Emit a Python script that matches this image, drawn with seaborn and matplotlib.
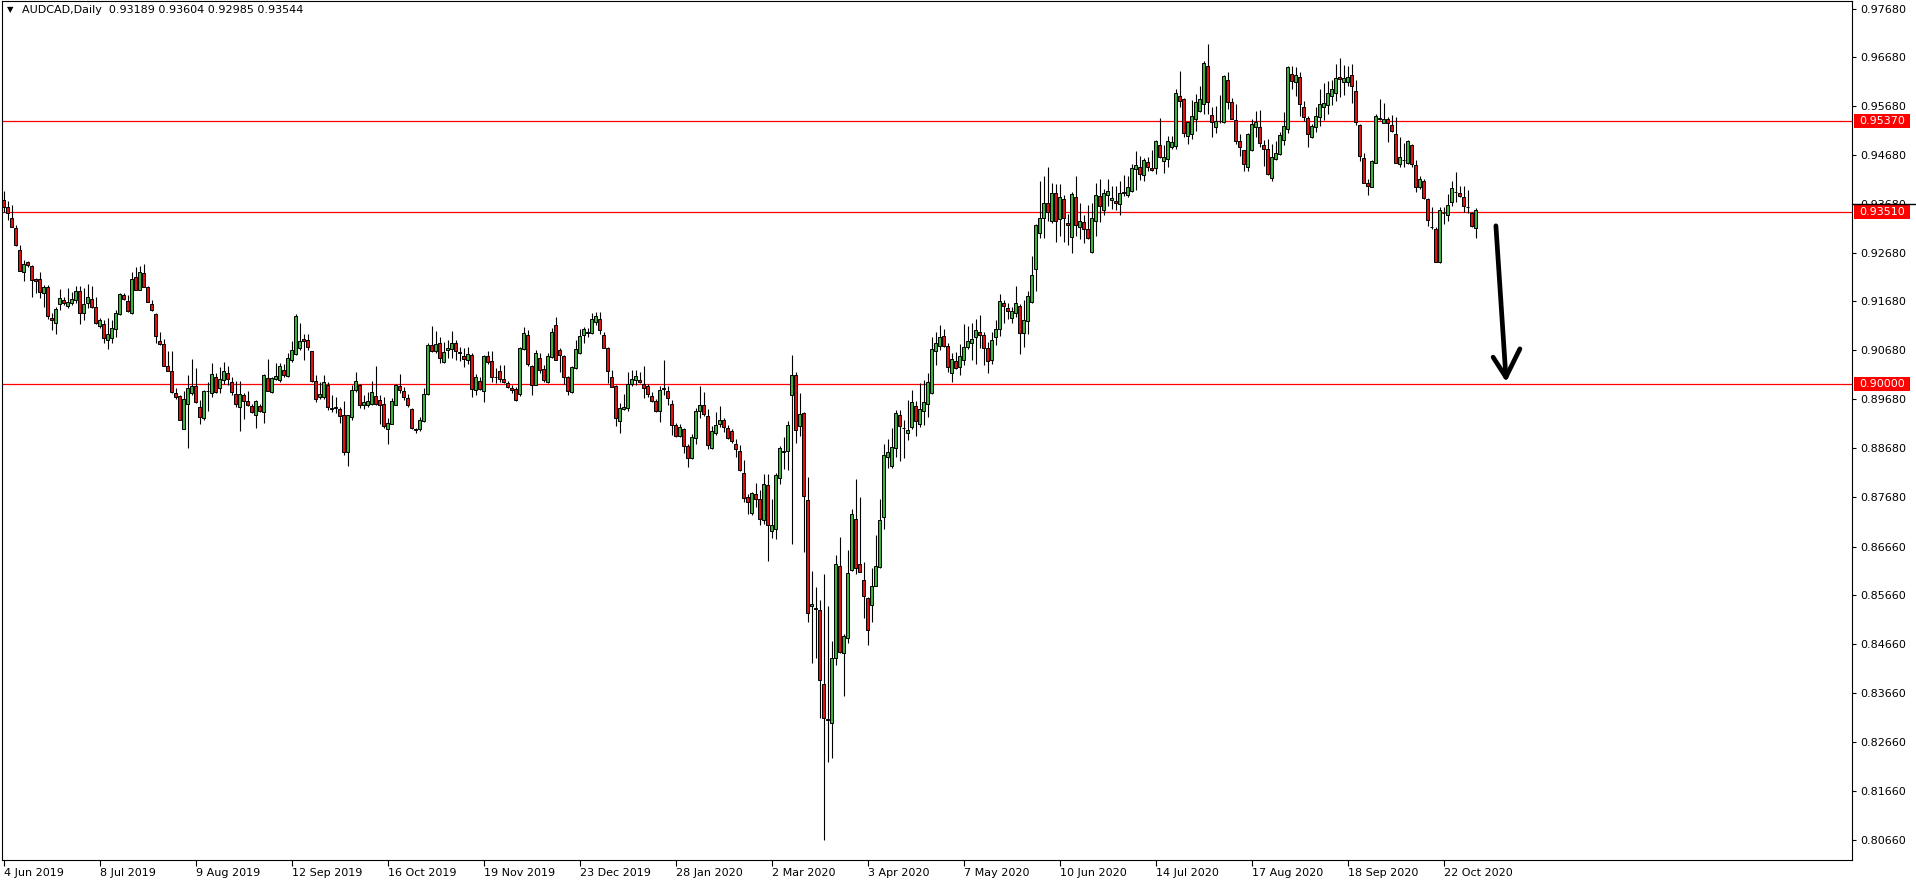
import matplotlib
matplotlib.use("Agg")
import matplotlib.pyplot as plt
import matplotlib.transforms as mtransforms
from matplotlib.patches import Rectangle
from matplotlib.lines import Line2D
import numpy as np
import pandas as pd
import seaborn as sns

# AUDCAD daily candles (one value per bar)
opens = [
    0.9376, 0.9361, 0.9338, 0.9318, 0.9273, 0.9229, 0.9248, 0.9241, 0.9214, 0.9214,
    0.9186, 0.9197, 0.9135, 0.9123, 0.9162, 0.9171, 0.9159, 0.9164, 0.9172, 0.9189,
    0.9144, 0.9164, 0.9173, 0.9156, 0.9118, 0.9121, 0.9089, 0.9094, 0.9111, 0.9142,
    0.9181, 0.9168, 0.9144, 0.9218, 0.9192, 0.9226, 0.9198, 0.9163, 0.9142, 0.9087,
    0.9080, 0.9036, 0.9025, 0.8980, 0.8974, 0.8907, 0.8959, 0.8980, 0.8995, 0.8951,
    0.8930, 0.8985, 0.8980, 0.9014, 0.8990, 0.9007, 0.9021, 0.9004, 0.8978, 0.8952,
    0.8976, 0.8965, 0.8954, 0.8935, 0.8954, 0.8941, 0.9012, 0.8983, 0.9010, 0.9008,
    0.9027, 0.9016, 0.9048, 0.9060, 0.9072, 0.9091, 0.9089, 0.9066, 0.9005, 0.8973,
    0.8973, 0.8998, 0.8949, 0.8952, 0.8947, 0.8935, 0.8860, 0.8931, 0.8986, 0.8997,
    0.8955, 0.8955, 0.8959, 0.8974, 0.8966, 0.8958, 0.8906, 0.8918, 0.8957, 0.8995,
    0.8985, 0.8970, 0.8948, 0.8907, 0.8906, 0.8924, 0.8978, 0.9079, 0.9067, 0.9082,
    0.9045, 0.9069, 0.9070, 0.9082, 0.9065, 0.9056, 0.9048, 0.9058, 0.8987, 0.9005,
    0.8985, 0.9056, 0.9046, 0.9013, 0.9025, 0.9010, 0.9002, 0.8991, 0.8988, 0.8978,
    0.9070, 0.9099, 0.9036, 0.8998, 0.9052, 0.9029, 0.9004, 0.9055, 0.9119, 0.9068,
    0.9056, 0.9013, 0.8983, 0.9031, 0.9062, 0.9099, 0.9104, 0.9103, 0.9125, 0.9133,
    0.9099, 0.9072, 0.9013, 0.8995, 0.8924, 0.8948, 0.8949, 0.9000, 0.9008, 0.9008,
    0.9000, 0.8995, 0.8974, 0.8964, 0.8944, 0.8989, 0.8985, 0.8959, 0.8916, 0.8893,
    0.8906, 0.8872, 0.8847, 0.8888, 0.8944, 0.8957, 0.8933, 0.8867, 0.8899, 0.8917,
    0.8925, 0.8908, 0.8903, 0.8877, 0.8862, 0.8816, 0.8767, 0.8734, 0.8774, 0.8763,
    0.8720, 0.8792, 0.8698, 0.8702, 0.8806, 0.8859, 0.8862, 0.8976, 0.9017, 0.8914,
    0.8940, 0.8761, 0.8545, 0.8541, 0.8536, 0.8384, 0.8312, 0.8304, 0.8437, 0.8626,
    0.8449, 0.8478, 0.8618, 0.8722, 0.8630, 0.8597, 0.8561, 0.8547, 0.8585, 0.8625,
    0.8726, 0.8850, 0.8831, 0.8867, 0.8935, 0.8908, 0.8898, 0.8910, 0.8954, 0.8918,
    0.8944, 0.8959, 0.8981, 0.9067, 0.9077, 0.9097, 0.9076, 0.9021, 0.9046, 0.9034,
    0.9049, 0.9075, 0.9082, 0.9096, 0.9105, 0.9099, 0.9072, 0.9048, 0.9095, 0.9111,
    0.9164, 0.9154, 0.9135, 0.9145, 0.9159, 0.9103, 0.9129, 0.9167, 0.9234, 0.9309,
    0.9340, 0.9369, 0.9333, 0.9391, 0.9336, 0.9377, 0.9328, 0.9301, 0.9381, 0.9321,
    0.9330, 0.9316, 0.9269, 0.9333, 0.9384, 0.9355, 0.9387, 0.9375, 0.9374, 0.9367,
    0.9392, 0.9387, 0.9394, 0.9439, 0.9443, 0.9428, 0.9453, 0.9441, 0.9442, 0.9488,
    0.9456, 0.9459, 0.9484, 0.9487, 0.9589, 0.9583, 0.9507, 0.9512, 0.9542, 0.9558,
    0.9572, 0.9650, 0.9550, 0.9525, 0.9538, 0.9535, 0.9622, 0.9577, 0.9540, 0.9497,
    0.9478, 0.9444, 0.9479, 0.9526, 0.9526, 0.9488, 0.9480, 0.9420, 0.9459, 0.9471,
    0.9499, 0.9521, 0.9633, 0.9617, 0.9627, 0.9566, 0.9543, 0.9505, 0.9526, 0.9545,
    0.9567, 0.9570, 0.9589, 0.9596, 0.9627, 0.9618, 0.9618, 0.9632, 0.9600, 0.9529,
    0.9461, 0.9410, 0.9403, 0.9452, 0.9543, 0.9533, 0.9542, 0.9529, 0.9511, 0.9449,
    0.9457, 0.9452, 0.9488, 0.9447, 0.9403, 0.9415, 0.9378, 0.9321, 0.9316, 0.9249,
    0.9350, 0.9345, 0.9372, 0.9393, 0.9391, 0.9381, 0.9362, 0.9350, 0.93189,
]
highs = [
    0.9395, 0.9374, 0.9366, 0.9325, 0.9284, 0.9253, 0.9250, 0.9243, 0.9217, 0.9228,
    0.9202, 0.9202, 0.9144, 0.9157, 0.9194, 0.9178, 0.9195, 0.9188, 0.9200, 0.9200,
    0.9195, 0.9204, 0.9200, 0.9178, 0.9135, 0.9130, 0.9135, 0.9130, 0.9150, 0.9185,
    0.9185, 0.9181, 0.9228, 0.9239, 0.9241, 0.9245, 0.9200, 0.9172, 0.9144, 0.9105,
    0.9092, 0.9066, 0.9066, 0.8990, 0.8976, 0.8985, 0.9017, 0.9050, 0.9031, 0.8966,
    0.8987, 0.9004, 0.9043, 0.9021, 0.9034, 0.9045, 0.9036, 0.9014, 0.9005, 0.9005,
    0.8980, 0.8985, 0.8959, 0.8966, 0.8959, 0.9019, 0.9050, 0.9014, 0.9043, 0.9043,
    0.9041, 0.9062, 0.9087, 0.9142, 0.9123, 0.9101, 0.9101, 0.9066, 0.9017, 0.9004,
    0.9017, 0.9004, 0.8976, 0.8973, 0.8952, 0.8964, 0.8935, 0.8997, 0.9024, 0.9000,
    0.8976, 0.8983, 0.9006, 0.9036, 0.8976, 0.8973, 0.8929, 0.8970, 0.9000, 0.9019,
    0.8992, 0.8978, 0.8949, 0.8908, 0.8932, 0.8990, 0.9082, 0.9118, 0.9108, 0.9096,
    0.9086, 0.9089, 0.9108, 0.9089, 0.9075, 0.9073, 0.9074, 0.9063, 0.9019, 0.9014,
    0.9058, 0.9067, 0.9067, 0.9032, 0.9038, 0.9038, 0.9006, 0.8997, 0.8992, 0.9075,
    0.9115, 0.9110, 0.9038, 0.9069, 0.9062, 0.9038, 0.9062, 0.9113, 0.9136, 0.9072,
    0.9058, 0.9015, 0.9036, 0.9089, 0.9112, 0.9116, 0.9113, 0.9144, 0.9147, 0.9147,
    0.9106, 0.9075, 0.9028, 0.8997, 0.8961, 0.8978, 0.9024, 0.9028, 0.9028, 0.9024,
    0.9036, 0.9000, 0.8983, 0.8968, 0.8994, 0.9048, 0.8994, 0.8966, 0.8920, 0.8918,
    0.8908, 0.8877, 0.8897, 0.8949, 0.8994, 0.8983, 0.8947, 0.8913, 0.8942, 0.8953,
    0.8929, 0.8915, 0.8906, 0.8886, 0.8875, 0.8843, 0.8774, 0.8778, 0.8797, 0.8782,
    0.8814, 0.8814, 0.8763, 0.8817, 0.8872, 0.8891, 0.8924, 0.9058, 0.9024, 0.8980,
    0.8942, 0.8809, 0.8616, 0.8584, 0.8556, 0.8609, 0.8545, 0.8472, 0.8649, 0.8686,
    0.8487, 0.8659, 0.8743, 0.8804, 0.8768, 0.8634, 0.8563, 0.8623, 0.8690, 0.8763,
    0.8876, 0.8886, 0.8908, 0.8946, 0.8945, 0.8925, 0.8966, 0.8987, 0.8965, 0.9002,
    0.9007, 0.9022, 0.9095, 0.9106, 0.9120, 0.9111, 0.9084, 0.9062, 0.9065, 0.9081,
    0.9122, 0.9118, 0.9123, 0.9133, 0.9140, 0.9106, 0.9086, 0.9106, 0.9131, 0.9183,
    0.9172, 0.9164, 0.9156, 0.9200, 0.9163, 0.9172, 0.9189, 0.9261, 0.9327, 0.9415,
    0.9425, 0.9444, 0.9410, 0.9409, 0.9409, 0.9386, 0.9348, 0.9393, 0.9425, 0.9370,
    0.9346, 0.9366, 0.9369, 0.9411, 0.9418, 0.9398, 0.9418, 0.9404, 0.9404, 0.9415,
    0.9427, 0.9424, 0.9450, 0.9476, 0.9465, 0.9461, 0.9463, 0.9479, 0.9499, 0.9543,
    0.9488, 0.9507, 0.9507, 0.9603, 0.9640, 0.9584, 0.9536, 0.9581, 0.9593, 0.9609,
    0.9661, 0.9695, 0.9567, 0.9568, 0.9591, 0.9632, 0.9639, 0.9584, 0.9572, 0.9512,
    0.9479, 0.9514, 0.9541, 0.9559, 0.9560, 0.9498, 0.9501, 0.9490, 0.9497, 0.9516,
    0.9557, 0.9651, 0.9650, 0.9648, 0.9637, 0.9579, 0.9548, 0.9531, 0.9567, 0.9603,
    0.9616, 0.9620, 0.9622, 0.9654, 0.9666, 0.9652, 0.9650, 0.9654, 0.9622, 0.9531,
    0.9473, 0.9419, 0.9458, 0.9552, 0.9582, 0.9574, 0.9546, 0.9550, 0.9545, 0.9504,
    0.9493, 0.9499, 0.9490, 0.9458, 0.9424, 0.9419, 0.9379, 0.9362, 0.9321, 0.9362,
    0.9362, 0.9388, 0.9415, 0.9434, 0.9405, 0.9405, 0.9396, 0.9352, 0.93604,
]
lows = [
    0.9351, 0.9334, 0.9320, 0.9282, 0.9231, 0.9209, 0.9239, 0.9178, 0.9185, 0.9176,
    0.9157, 0.9133, 0.9109, 0.9101, 0.9150, 0.9161, 0.9154, 0.9161, 0.9164, 0.9122,
    0.9130, 0.9154, 0.9154, 0.9122, 0.9113, 0.9082, 0.9070, 0.9084, 0.9096, 0.9140,
    0.9171, 0.9146, 0.9142, 0.9191, 0.9191, 0.9198, 0.9166, 0.9149, 0.9084, 0.9079,
    0.9036, 0.9025, 0.8981, 0.8969, 0.8925, 0.8906, 0.8868, 0.8976, 0.8961, 0.8918,
    0.8925, 0.8944, 0.8973, 0.8980, 0.8980, 0.9000, 0.8998, 0.8976, 0.8952, 0.8903,
    0.8927, 0.8954, 0.8939, 0.8908, 0.8942, 0.8920, 0.8985, 0.8980, 0.9007, 0.9004,
    0.9014, 0.9014, 0.9045, 0.9058, 0.9068, 0.9048, 0.9068, 0.9004, 0.8963, 0.8969,
    0.8969, 0.8946, 0.8942, 0.8940, 0.8920, 0.8853, 0.8832, 0.8925, 0.8983, 0.8950,
    0.8948, 0.8952, 0.8956, 0.8955, 0.8918, 0.8908, 0.8876, 0.8917, 0.8956, 0.8980,
    0.8966, 0.8952, 0.8907, 0.8899, 0.8903, 0.8922, 0.8976, 0.9065, 0.9062, 0.9043,
    0.9043, 0.9052, 0.9052, 0.9049, 0.9046, 0.9034, 0.9041, 0.8973, 0.8976, 0.8987,
    0.8963, 0.9041, 0.9004, 0.9002, 0.9004, 0.9002, 0.8990, 0.8980, 0.8965, 0.8975,
    0.9069, 0.9036, 0.8976, 0.8996, 0.9021, 0.9004, 0.9002, 0.9052, 0.9048, 0.9024,
    0.9000, 0.8976, 0.8981, 0.9030, 0.9060, 0.9084, 0.9095, 0.9101, 0.9120, 0.9101,
    0.9072, 0.9002, 0.8992, 0.8913, 0.8899, 0.8946, 0.8944, 0.8995, 0.8997, 0.9002,
    0.8970, 0.8973, 0.8963, 0.8942, 0.8922, 0.8976, 0.8955, 0.8894, 0.8891, 0.8891,
    0.8857, 0.8830, 0.8845, 0.8877, 0.8929, 0.8933, 0.8865, 0.8865, 0.8894, 0.8910,
    0.8901, 0.8886, 0.8879, 0.8849, 0.8821, 0.8758, 0.8733, 0.8731, 0.8748, 0.8711,
    0.8713, 0.8637, 0.8684, 0.8681, 0.8794, 0.8824, 0.8823, 0.8672, 0.8879, 0.8893,
    0.8655, 0.8512, 0.8427, 0.8437, 0.8316, 0.8065, 0.8225, 0.8234, 0.8423, 0.8449,
    0.8360, 0.8469, 0.8617, 0.8609, 0.8613, 0.8520, 0.8465, 0.8512, 0.8585, 0.8623,
    0.8702, 0.8828, 0.8826, 0.8849, 0.8842, 0.8848, 0.8884, 0.8906, 0.8893, 0.8910,
    0.8915, 0.8932, 0.8978, 0.9038, 0.9069, 0.9075, 0.9024, 0.9004, 0.9029, 0.9017,
    0.9038, 0.9070, 0.9048, 0.9041, 0.9072, 0.9038, 0.9021, 0.9041, 0.9079, 0.9097,
    0.9123, 0.9133, 0.9123, 0.9137, 0.9060, 0.9075, 0.9101, 0.9165, 0.9190, 0.9299,
    0.9299, 0.9333, 0.9328, 0.9290, 0.9302, 0.9290, 0.9284, 0.9268, 0.9302, 0.9295,
    0.9288, 0.9295, 0.9268, 0.9302, 0.9331, 0.9345, 0.9364, 0.9357, 0.9355, 0.9345,
    0.9385, 0.9383, 0.9393, 0.9396, 0.9417, 0.9415, 0.9436, 0.9436, 0.9430, 0.9461,
    0.9432, 0.9444, 0.9481, 0.9481, 0.9567, 0.9504, 0.9490, 0.9501, 0.9518, 0.9557,
    0.9552, 0.9552, 0.9504, 0.9514, 0.9533, 0.9533, 0.9563, 0.9541, 0.9490, 0.9466,
    0.9436, 0.9436, 0.9476, 0.9505, 0.9485, 0.9445, 0.9428, 0.9415, 0.9458, 0.9468,
    0.9488, 0.9514, 0.9603, 0.9589, 0.9548, 0.9538, 0.9485, 0.9502, 0.9516, 0.9527,
    0.9540, 0.9551, 0.9570, 0.9579, 0.9587, 0.9591, 0.9609, 0.9574, 0.9529, 0.9456,
    0.9411, 0.9387, 0.9403, 0.9452, 0.9540, 0.9533, 0.9495, 0.9516, 0.9451, 0.9444,
    0.9444, 0.9449, 0.9444, 0.9393, 0.9398, 0.9377, 0.9323, 0.9316, 0.9248, 0.9246,
    0.9327, 0.9333, 0.9363, 0.9372, 0.9383, 0.9352, 0.9350, 0.9321, 0.92985,
]
closes = [
    0.9361, 0.9349, 0.9320, 0.9284, 0.9231, 0.9245, 0.9242, 0.9213, 0.9209, 0.9188,
    0.9197, 0.9139, 0.9131, 0.9152, 0.9176, 0.9164, 0.9166, 0.9174, 0.9189, 0.9144,
    0.9162, 0.9178, 0.9157, 0.9123, 0.9131, 0.9094, 0.9101, 0.9114, 0.9144, 0.9183,
    0.9174, 0.9148, 0.9214, 0.9192, 0.9228, 0.9198, 0.9166, 0.9150, 0.9097, 0.9080,
    0.9036, 0.9025, 0.8982, 0.8972, 0.8926, 0.8968, 0.8990, 0.8995, 0.8963, 0.8932,
    0.8985, 0.8984, 0.9019, 0.8982, 0.9009, 0.9025, 0.9010, 0.8983, 0.8959, 0.8978,
    0.8965, 0.8955, 0.8942, 0.8964, 0.8944, 0.9017, 0.8985, 0.9012, 0.9015, 0.9036,
    0.9017, 0.9053, 0.9068, 0.9138, 0.9087, 0.9088, 0.9074, 0.9005, 0.8969, 0.8978,
    0.9003, 0.8952, 0.8947, 0.8949, 0.8934, 0.8860, 0.8935, 0.8987, 0.9005, 0.8957,
    0.8962, 0.8964, 0.8983, 0.8958, 0.8957, 0.8912, 0.8919, 0.8964, 0.8997, 0.8986,
    0.8973, 0.8955, 0.8908, 0.8904, 0.8925, 0.8978, 0.9079, 0.9067, 0.9081, 0.9052,
    0.9065, 0.9072, 0.9084, 0.9067, 0.9062, 0.9051, 0.9060, 0.8988, 0.9013, 0.8988,
    0.9056, 0.9044, 0.9014, 0.9013, 0.9010, 0.9004, 0.8993, 0.8987, 0.8966, 0.9072,
    0.9103, 0.9039, 0.8998, 0.9062, 0.9028, 0.9007, 0.9056, 0.9105, 0.9049, 0.9058,
    0.9013, 0.8985, 0.9033, 0.9070, 0.9098, 0.9111, 0.9105, 0.9133, 0.9138, 0.9110,
    0.9073, 0.9026, 0.8993, 0.8929, 0.8949, 0.8951, 0.9000, 0.9010, 0.9015, 0.9003,
    0.8990, 0.8978, 0.8964, 0.8944, 0.8987, 0.8990, 0.8970, 0.8916, 0.8893, 0.8910,
    0.8873, 0.8847, 0.8890, 0.8944, 0.8957, 0.8938, 0.8875, 0.8903, 0.8916, 0.8925,
    0.8910, 0.8889, 0.8882, 0.8865, 0.8823, 0.8765, 0.8758, 0.8775, 0.8763, 0.8722,
    0.8795, 0.8710, 0.8710, 0.8812, 0.8867, 0.8862, 0.8915, 0.9017, 0.8905, 0.8938,
    0.8770, 0.8531, 0.8549, 0.8539, 0.8392, 0.8314, 0.8310, 0.8437, 0.8630, 0.8451,
    0.8483, 0.8611, 0.8733, 0.8623, 0.8614, 0.8565, 0.8496, 0.8585, 0.8627, 0.8720,
    0.8854, 0.8860, 0.8870, 0.8939, 0.8912, 0.8908, 0.8905, 0.8962, 0.8924, 0.8948,
    0.8962, 0.9004, 0.9071, 0.9084, 0.9095, 0.9077, 0.9034, 0.9050, 0.9032, 0.9056,
    0.9074, 0.9087, 0.9092, 0.9110, 0.9100, 0.9072, 0.9046, 0.9090, 0.9111, 0.9170,
    0.9159, 0.9149, 0.9148, 0.9164, 0.9104, 0.9131, 0.9180, 0.9223, 0.9324, 0.9340,
    0.9369, 0.9352, 0.9391, 0.9333, 0.9383, 0.9340, 0.9325, 0.9389, 0.9325, 0.9333,
    0.9316, 0.9299, 0.9340, 0.9387, 0.9364, 0.9391, 0.9394, 0.9379, 0.9369, 0.9391,
    0.9391, 0.9402, 0.9441, 0.9448, 0.9430, 0.9458, 0.9443, 0.9437, 0.9497, 0.9463,
    0.9464, 0.9497, 0.9494, 0.9594, 0.9579, 0.9514, 0.9535, 0.9548, 0.9577, 0.9582,
    0.9657, 0.9577, 0.9536, 0.9538, 0.9537, 0.9630, 0.9577, 0.9542, 0.9497, 0.9485,
    0.9449, 0.9512, 0.9531, 0.9536, 0.9492, 0.9481, 0.9430, 0.9463, 0.9473, 0.9509,
    0.9527, 0.9649, 0.9620, 0.9631, 0.9572, 0.9545, 0.9510, 0.9527, 0.9548, 0.9572,
    0.9574, 0.9596, 0.9603, 0.9625, 0.9624, 0.9625, 0.9627, 0.9609, 0.9535, 0.9465,
    0.9411, 0.9405, 0.9456, 0.9548, 0.9542, 0.9542, 0.9533, 0.9518, 0.9452, 0.9463,
    0.9458, 0.9497, 0.9449, 0.9403, 0.9419, 0.9379, 0.9335, 0.9320, 0.9249, 0.9355,
    0.9349, 0.9365, 0.9400, 0.9392, 0.9385, 0.9364, 0.9361, 0.9323, 0.93544,
]

# x-axis date labels (every 24 bars)
date_labels = ["4 Jun 2019", "8 Jul 2019", "9 Aug 2019", "12 Sep 2019", "16 Oct 2019",
               "19 Nov 2019", "23 Dec 2019", "28 Jan 2020", "2 Mar 2020", "3 Apr 2020",
               "7 May 2020", "10 Jun 2020", "14 Jul 2020", "17 Aug 2020", "18 Sep 2020",
               "22 Oct 2020"]
date_bars = [0, 24, 48, 72, 96, 120, 144, 168, 192, 216, 240, 264, 288, 312, 336, 360]

# price scale labels on the right
price_ticks = [0.97680, 0.96680, 0.95680, 0.94680, 0.93680, 0.92680, 0.91680, 0.90680,
               0.89680, 0.88680, 0.87680, 0.86660, 0.85660, 0.84660, 0.83660, 0.82660,
               0.81660, 0.80660]

# horizontal levels drawn on the chart
levels = [0.95370, 0.93510, 0.90000]

# hand drawn arrow (bar index, price)
arrow_shaft = ([373.1, 375.6], [0.9323, 0.9013])
arrow_left = ([372.4, 375.6], [0.9054, 0.9013])
arrow_right = ([379.1, 375.6], [0.9071, 0.9013])

header = "AUDCAD,Daily  0.93189 0.93604 0.92985 0.93544"

df = pd.DataFrame({"open": opens, "high": highs, "low": lows, "close": closes})
df["bar"] = np.arange(len(df))
df["up"] = df["close"] >= df["open"]

sns.set_theme(style="white")
plt.rcParams["font.family"] = ["DejaVu Sans"]

W, H = 1916, 884
fig = plt.figure(figsize=(W / 100, H / 100), dpi=100)
fig.patch.set_facecolor("white")
ax = fig.add_axes([2 / W, 24 / H, 1850 / W, 859 / H])
ax.set_facecolor("white")

# wicks
ax.vlines(df["bar"], df["low"], df["high"], color="black", linewidth=0.8, zorder=2)

# bodies
body_low = df[["open", "close"]].min(axis=1)
body_h = (df["close"] - df["open"]).abs().clip(lower=0.00003)
colors = np.where(df["up"], "#3cb43c", "#e01010")
ax.bar(df["bar"], body_h, bottom=body_low, width=0.62, color=colors,
       edgecolor="black", linewidth=0.7, zorder=3)

for lv in levels:
    ax.axhline(lv, color="#ff0000", linewidth=0.9, zorder=1)

# arrow
for xs, ys in (arrow_shaft, arrow_left, arrow_right):
    ax.plot(xs, ys, color="black", linewidth=3.4, solid_capstyle="round", zorder=4)

ax.set_xlim(-0.375, 462.125)
ax.set_ylim(0.80242, 0.97834)

ax.yaxis.tick_right()
ax.set_yticks(price_ticks)
ax.set_yticklabels([f"{v:.5f}" for v in price_ticks])
ax.tick_params(axis="y", which="both", right=True, left=False, length=3, width=0.8,
               pad=3, labelsize=8, colors="black", direction="out")

ax.set_xticks(date_bars)
ax.set_xticklabels(date_labels, ha="left")
ax.tick_params(axis="x", which="both", bottom=True, length=4, width=0.8, pad=2,
               labelsize=8, colors="black", direction="out")

for sp in ax.spines.values():
    sp.set_visible(True)
    sp.set_color("black")
    sp.set_linewidth(0.8)

# price tags on the axis
trans = mtransforms.blended_transform_factory(fig.transFigure, ax.transData)
half = 7 / 4883
for lv in levels:
    fig.add_artist(Rectangle((1854 / W, lv - half), 56 / W, 2 * half, transform=trans,
                             facecolor="#ff0000", edgecolor="none", zorder=5))
    fig.text(1882 / W, lv, f"{lv:.5f}", transform=trans, ha="center", va="center",
             color="white", fontsize=8, zorder=6)

# black bid marker on the price scale, sitting on top of the 0.93510 tag
bid_y = levels[1] + half + 1 / 4883
fig.add_artist(Line2D([1852 / W, 1.0], [bid_y, bid_y], transform=trans,
                      color="black", linewidth=1.0, zorder=6))

# header
fig.text(7 / W, 1 - 10 / H, "\u25bc", fontsize=6, va="center", ha="left", color="black")
fig.text(22 / W, 1 - 10 / H, header, fontsize=8, va="center", ha="left", color="black")

fig.savefig("out.png", dpi=100, facecolor="white")
